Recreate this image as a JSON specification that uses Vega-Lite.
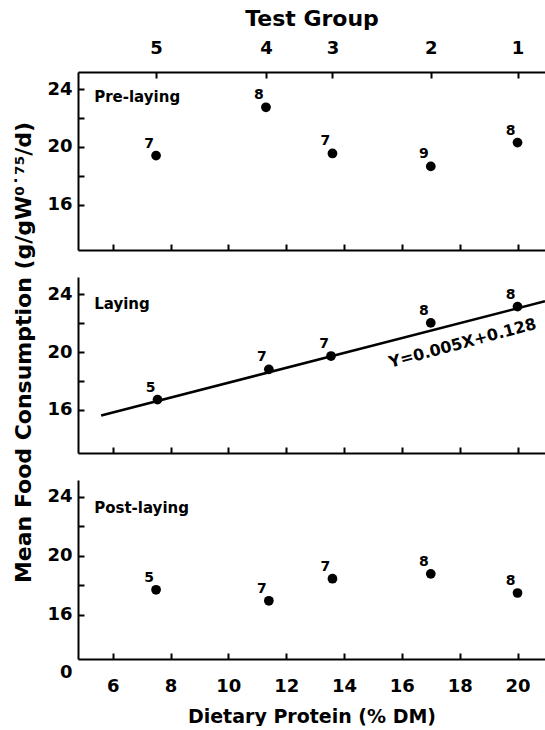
{
  "$schema": "https://vega.github.io/schema/vega-lite/v6.json",
  "background": "white",
  "padding": {"left": 12, "top": 7, "right": 0, "bottom": 0},
  "bounds": "flush",
  "spacing": 27,
  "datasets": {
    "pts": [
      {"phase": "Pre-laying", "group": 5, "protein": 7.5, "intake": 19.4, "n": 7},
      {"phase": "Pre-laying", "group": 4, "protein": 11.3, "intake": 22.75, "n": 8},
      {"phase": "Pre-laying", "group": 3, "protein": 13.6, "intake": 19.55, "n": 7},
      {"phase": "Pre-laying", "group": 2, "protein": 17.0, "intake": 18.65, "n": 9},
      {"phase": "Pre-laying", "group": 1, "protein": 20.0, "intake": 20.3, "n": 8},
      {"phase": "Laying", "group": 5, "protein": 7.55, "intake": 16.7, "n": 5},
      {"phase": "Laying", "group": 4, "protein": 11.4, "intake": 18.8, "n": 7},
      {"phase": "Laying", "group": 3, "protein": 13.55, "intake": 19.72, "n": 7},
      {"phase": "Laying", "group": 2, "protein": 17.0, "intake": 22.02, "n": 8},
      {"phase": "Laying", "group": 1, "protein": 20.0, "intake": 23.15, "n": 8},
      {"phase": "Post-laying", "group": 5, "protein": 7.5, "intake": 17.7, "n": 5},
      {"phase": "Post-laying", "group": 4, "protein": 11.4, "intake": 16.95, "n": 7},
      {"phase": "Post-laying", "group": 3, "protein": 13.6, "intake": 18.45, "n": 7},
      {"phase": "Post-laying", "group": 2, "protein": 17.0, "intake": 18.78, "n": 8},
      {"phase": "Post-laying", "group": 1, "protein": 20.0, "intake": 17.48, "n": 8}
    ],
    "fit": [
      {"protein": 5.6, "intake": 15.6},
      {"protein": 20.95, "intake": 23.52}
    ]
  },
  "vconcat": [
    {
      "width": 467,
      "height": 178,
      "layer": [
        {
          "data": {"name": "pts"},
          "transform": [{"filter": "datum.phase === 'Pre-laying'"}],
          "mark": {"type": "point", "filled": true, "color": "black", "opacity": 1, "size": 95},
          "encoding": {
            "x": {"field": "protein", "type": "quantitative", "scale": {"domain": [4.8, 20.95], "nice": false, "zero": false},
                  "axis": {"orient": "bottom", "values": [6, 8, 10, 12, 14, 16, 18, 20], "labels": false, "title": null}},
            "y": {"field": "intake", "type": "quantitative", "scale": {"domain": [12.85, 25.2], "nice": false, "zero": false},
                  "axis": {"values": [16, 18, 20, 22, 24], "labelOverlap": false, "labelExpr": "datum.value % 4 === 0 ? datum.label : ''", "title": null}}
          }
        },
        {
          "data": {"name": "pts"},
          "transform": [{"filter": "datum.phase === 'Pre-laying'"}],
          "mark": {"type": "text", "dx": -7, "dy": -12, "fontSize": 14, "fontWeight": "bold"},
          "encoding": {
            "x": {"field": "protein", "type": "quantitative",
                  "axis": {"orient": "top", "values": [7.5, 11.3, 13.6, 17, 20], "labelOverlap": false,
                           "labelExpr": "datum.value < 9 ? '5' : datum.value < 12.5 ? '4' : datum.value < 15 ? '3' : datum.value < 18.5 ? '2' : '1'",
                           "labelFontSize": 18, "labelPadding": 21, "title": "Test Group", "titleFontSize": 22, "titlePadding": 9}},
            "y": {"field": "intake", "type": "quantitative"},
            "text": {"field": "n"}
          }
        },
        {
          "data": {"values": [{"label": "Pre-laying"}]},
          "mark": {"type": "text", "align": "left", "baseline": "middle", "fontSize": 15, "fontWeight": "bold"},
          "encoding": {
            "x": {"datum": 5.36, "type": "quantitative", "axis": null},
            "y": {"datum": 23.48, "type": "quantitative"},
            "text": {"field": "label"}
          }
        }
      ],
      "resolve": {"axis": {"x": "independent"}}
    },
    {
      "width": 467,
      "height": 176,
      "layer": [
        {
          "data": {"name": "pts"},
          "transform": [{"filter": "datum.phase === 'Laying'"}],
          "mark": {"type": "point", "filled": true, "color": "black", "opacity": 1, "size": 95},
          "encoding": {
            "x": {"field": "protein", "type": "quantitative", "scale": {"domain": [4.8, 20.95], "nice": false, "zero": false},
                  "axis": {"orient": "bottom", "values": [6, 8, 10, 12, 14, 16, 18, 20], "labels": false, "title": null}},
            "y": {"field": "intake", "type": "quantitative", "scale": {"domain": [13.0, 25.2], "nice": false, "zero": false},
                  "axis": {"values": [16, 18, 20, 22, 24], "labelOverlap": false, "labelExpr": "datum.value % 4 === 0 ? datum.label : ''",
                           "title": "Mean Food Consumption (g/gW⁰˙⁷⁵/d)", "titleFontSize": 22, "titleY": 75, "titlePadding": 11}}
          }
        },
        {
          "data": {"name": "fit"},
          "mark": {"type": "line", "color": "black", "strokeWidth": 2.5},
          "encoding": {
            "x": {"field": "protein", "type": "quantitative", "axis": null},
            "y": {"field": "intake", "type": "quantitative"}
          }
        },
        {
          "data": {"name": "pts"},
          "transform": [{"filter": "datum.phase === 'Laying'"}],
          "mark": {"type": "text", "dx": -7, "dy": -12, "fontSize": 14, "fontWeight": "bold"},
          "encoding": {
            "x": {"field": "protein", "type": "quantitative", "axis": null},
            "y": {"field": "intake", "type": "quantitative"},
            "text": {"field": "n"}
          }
        },
        {
          "data": {"values": [{"label": "Laying"}]},
          "mark": {"type": "text", "align": "left", "baseline": "middle", "fontSize": 15, "fontWeight": "bold"},
          "encoding": {
            "x": {"datum": 5.36, "type": "quantitative", "axis": null},
            "y": {"datum": 23.3, "type": "quantitative"},
            "text": {"field": "label"}
          }
        },
        {
          "data": {"values": [{"eq": "Y=0.005X+0.128"}]},
          "mark": {"type": "text", "align": "center", "baseline": "middle", "fontSize": 16, "fontWeight": "bold", "angle": -15},
          "encoding": {
            "x": {"datum": 18.1, "type": "quantitative", "axis": null},
            "y": {"datum": 20.6, "type": "quantitative"},
            "text": {"field": "eq"}
          }
        }
      ],
      "resolve": {"axis": {"x": "independent"}}
    },
    {
      "width": 467,
      "height": 179,
      "layer": [
        {
          "data": {"name": "pts"},
          "transform": [{"filter": "datum.phase === 'Post-laying'"}],
          "mark": {"type": "point", "filled": true, "color": "black", "opacity": 1, "size": 95},
          "encoding": {
            "x": {"field": "protein", "type": "quantitative", "scale": {"domain": [4.8, 20.95], "nice": false, "zero": false},
                  "axis": {"orient": "bottom", "values": [6, 8, 10, 12, 14, 16, 18, 20], "labelOverlap": false, "labelPadding": 24,
                           "title": "Dietary Protein (% DM)", "titleFontSize": 19, "titlePadding": 12}},
            "y": {"field": "intake", "type": "quantitative", "scale": {"domain": [13.0, 25.15], "nice": false, "zero": false},
                  "axis": {"values": [16, 18, 20, 22, 24], "labelOverlap": false,
                           "labelExpr": "datum.value % 4 === 0 ? datum.label : ''",
                           "title": null}}
          }
        },
        {
          "data": {"name": "pts"},
          "transform": [{"filter": "datum.phase === 'Post-laying'"}],
          "mark": {"type": "text", "dx": -7, "dy": -12, "fontSize": 14, "fontWeight": "bold"},
          "encoding": {
            "x": {"field": "protein", "type": "quantitative", "axis": null},
            "y": {"field": "intake", "type": "quantitative"},
            "text": {"field": "n"}
          }
        },
        {
          "data": {"values": [{"label": "Post-laying", "zero": "0"}]},
          "mark": {"type": "text", "align": "left", "baseline": "middle", "fontSize": 15, "fontWeight": "bold"},
          "encoding": {
            "x": {"datum": 5.36, "type": "quantitative", "axis": null},
            "y": {"datum": 23.23, "type": "quantitative"},
            "text": {"field": "label"}
          }
        },
        {
          "data": {"values": [{"zero": "0"}]},
          "mark": {"type": "text", "align": "center", "baseline": "middle", "fontSize": 18, "fontWeight": "bold"},
          "encoding": {
            "x": {"datum": 4.39, "type": "quantitative", "axis": null},
            "y": {"datum": 12.08, "type": "quantitative"},
            "text": {"field": "zero"}
          }
        }
      ],
      "resolve": {"axis": {"x": "independent"}}
    }
  ],
  "config": {
    "view": {"stroke": null},
    "axis": {
      "domainColor": "black", "domainWidth": 2,
      "tickColor": "black", "tickWidth": 2, "tickSize": -6,
      "labelColor": "black", "labelFont": "DejaVu Sans", "labelFontWeight": "bold", "labelFontSize": 18, "labelPadding": 12,
      "labelOverlap": false,
      "titleColor": "black", "titleFont": "DejaVu Sans", "titleFontWeight": "bold",
      "grid": false
    },
    "text": {"font": "DejaVu Sans", "color": "black"}
  }
}
